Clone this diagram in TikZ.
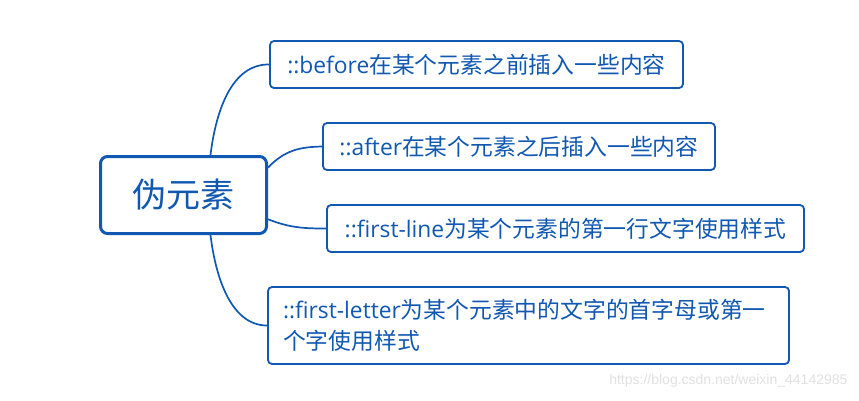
\documentclass[tikz,border=0pt]{standalone}
\usepackage{fontspec}
\setmainfont{Noto Sans CJK SC}
\newfontfamily\latinfont{Open Sans}
\newfontfamily\markfont{Liberation Sans}
\usepackage{xcolor}
\definecolor{mapblue}{RGB}{17,88,178}
\definecolor{marktext}{RGB}{225,225,225}
\newcommand{\lat}[1]{{\latinfont #1}}
\tikzset{
  topic/.style={draw=mapblue, line width=3pt, rounded corners=7pt, fill=white,
    text=mapblue, inner sep=0pt, font=\fontsize{34}{40}\selectfont},
  subtopic/.style={draw=mapblue, line width=1.8pt, rounded corners=4pt, fill=white,
    text=mapblue, inner sep=0pt, font=\fontsize{22.8}{31}\selectfont},
  branch/.style={draw=mapblue, line width=1.7pt}
}

\begin{document}
\begin{tikzpicture}[x=1pt,y=-1pt]
\useasboundingbox[fill=white] (0,0) rectangle (859,400);
% Drawing the central topic
\node[topic, minimum width=166pt, minimum height=77pt] (root) at (183.5,195) {伪元素};
% Drawing the subtopics
\node[subtopic, minimum width=413pt, minimum height=47pt] (before) at (476.5,64.5) {\lat{::before}在某个元素之前插入一些内容};
\node[subtopic, minimum width=392pt, minimum height=47pt] (after) at (519,146.5) {\lat{::after}在某个元素之后插入一些内容};
\node[subtopic, minimum width=477pt, minimum height=47pt] (firstline) at (565.5,228.5) {\lat{::first-line}为某个元素的第一行文字使用样式};
\node[subtopic, minimum width=521pt, minimum height=77pt, text width=491pt, align=left] (firstletter) at (528.5,325.5)
  {\lat{::first-letter}为某个元素中的文字的首字母或第一\\个字使用样式};
% Drawing the branches
\draw[branch] (root.56) .. controls (216,110) and (232,64) .. (before.west);
\draw[branch] (root.18) .. controls (285,150) and (300,147) .. (after.west);
\draw[branch] (root.-16) .. controls (290,228) and (305,228.5) .. (firstline.west);
\draw[branch] (root.-56) .. controls (216,280) and (232,325.5) .. (firstletter.west);
% Watermark
\node[text=marktext, font=\markfont\fontsize{14}{16}\selectfont, anchor=east] (watermark) at (851,381) {https://blog.csdn.net/weixin\_44142985};
\end{tikzpicture}
\end{document}
